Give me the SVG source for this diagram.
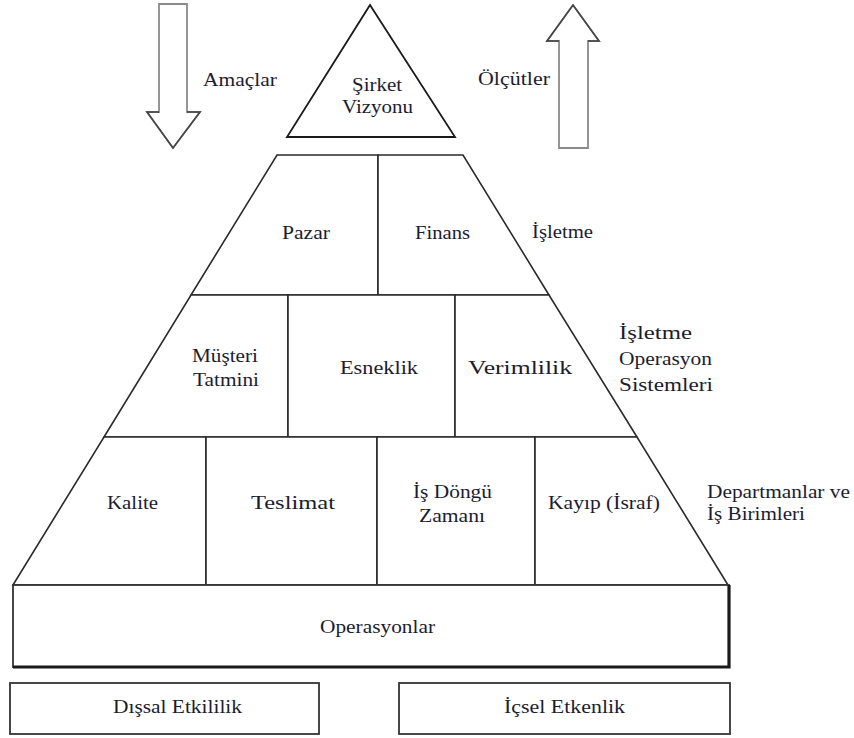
<svg xmlns="http://www.w3.org/2000/svg" width="854" height="738" viewBox="0 0 854 738">
  <style>
    text { font-family: 'Liberation Serif', 'DejaVu Serif', serif; font-size: 18px; fill: #1c1c30; }
    .cell { fill: #ffffff; stroke: #2a2a2a; stroke-width: 1.6; stroke-linejoin: miter; }
    .tri { fill: #ffffff; stroke: #1a1a1a; stroke-width: 1.8; }
    .arrow { fill: #ffffff; stroke: #8a8a8a; stroke-width: 1.8; stroke-linejoin: miter; }
    .head { fill: none; stroke: #444444; stroke-width: 1.6; stroke-linejoin: miter; }
    .box { fill: #ffffff; stroke: #333333; stroke-width: 1.8; }
    .heavy { stroke: #1a1a1a; stroke-width: 3.2; fill: none; }
  </style>
  <rect width="854" height="738" fill="#ffffff"/>

  <g font-family="Liberation Serif, DejaVu Serif, serif" font-size="18">
  <!-- block arrows: goals flow down, measures flow up -->
  <g id="connectors">
    <polygon class="arrow" points="159,4 187,4 187,112 200,112 173,148 147,112 159,112"/>
    <polyline class="head" points="187,112 200,112 173,148 147,112 159,112"/>
    <polygon class="arrow" points="573,5 599,41 588,41 588,148 559,148 559,41 547,41"/>
    <polyline class="head" points="559,41 547,41 573,5 599,41 588,41"/>
  </g>

  <!-- side labels -->
  <g id="label-amaclar"><text x="203" y="86" textLength="74" lengthAdjust="spacingAndGlyphs">Amaçlar</text></g>
  <g id="label-olcutler"><text x="478" y="85" textLength="72" lengthAdjust="spacingAndGlyphs">Ölçütler</text></g>

  <!-- apex: company vision -->
  <g id="node-vizyon">
    <polygon class="tri" points="370,5 455,137 287,137"/>
    <text x="352" y="91" textLength="50" lengthAdjust="spacingAndGlyphs">Şirket</text>
    <text x="342" y="113" textLength="71" lengthAdjust="spacingAndGlyphs">Vizyonu</text>
  </g>

  <!-- level 1: business -->
  <g id="node-pazar">
    <polygon class="cell" points="277,155 378,155 378,295 191,295"/>
    <text x="282" y="239" textLength="48" lengthAdjust="spacingAndGlyphs">Pazar</text>
  </g>
  <g id="node-finans">
    <polygon class="cell" points="378,155 463,155 549,295 378,295"/>
    <text x="415" y="239" textLength="55" lengthAdjust="spacingAndGlyphs">Finans</text>
  </g>
  <g id="label-isletme"><text x="532" y="238" textLength="61" lengthAdjust="spacingAndGlyphs">İşletme</text></g>

  <!-- level 2: business operating systems -->
  <g id="node-musteri">
    <polygon class="cell" points="191,295 288,295 288,437 104,437"/>
    <text x="192" y="362" textLength="66" lengthAdjust="spacingAndGlyphs">Müşteri</text>
    <text x="193" y="386" textLength="66" lengthAdjust="spacingAndGlyphs">Tatmini</text>
  </g>
  <g id="node-esneklik">
    <polygon class="cell" points="288,295 455,295 455,437 288,437"/>
    <text x="340" y="374" textLength="78" lengthAdjust="spacingAndGlyphs">Esneklik</text>
  </g>
  <g id="node-verimlilik">
    <polygon class="cell" points="455,295 549,295 637,437 455,437"/>
    <text x="468" y="374" textLength="104" lengthAdjust="spacingAndGlyphs">Verimlilik</text>
  </g>
  <g id="label-operasyon-sistemleri">
    <text x="619" y="339" textLength="73" lengthAdjust="spacingAndGlyphs">İşletme</text>
    <text x="619" y="365" textLength="93" lengthAdjust="spacingAndGlyphs">Operasyon</text>
    <text x="619" y="391" textLength="94" lengthAdjust="spacingAndGlyphs">Sistemleri</text>
  </g>

  <!-- level 3: departments and business units -->
  <g id="node-kalite">
    <polygon class="cell" points="104,437 206,437 206,585 13,585"/>
    <text x="107" y="509" textLength="51" lengthAdjust="spacingAndGlyphs">Kalite</text>
  </g>
  <g id="node-teslimat">
    <polygon class="cell" points="206,437 377,437 377,585 206,585"/>
    <text x="251" y="509" textLength="84" lengthAdjust="spacingAndGlyphs">Teslimat</text>
  </g>
  <g id="node-dongu">
    <polygon class="cell" points="377,437 535,437 535,585 377,585"/>
    <text x="413" y="498" textLength="79" lengthAdjust="spacingAndGlyphs">İş Döngü</text>
    <text x="419" y="522" textLength="66" lengthAdjust="spacingAndGlyphs">Zamanı</text>
  </g>
  <g id="node-kayip">
    <polygon class="cell" points="535,437 637,437 728,585 535,585"/>
    <text x="548" y="509" textLength="112" lengthAdjust="spacingAndGlyphs">Kayıp (İsraf)</text>
  </g>
  <g id="label-departmanlar">
    <text x="707" y="498" textLength="143" lengthAdjust="spacingAndGlyphs">Departmanlar ve</text>
    <text x="707" y="520" textLength="98" lengthAdjust="spacingAndGlyphs">İş Birimleri</text>
  </g>

  <!-- base: operations -->
  <g id="node-operasyonlar">
    <rect class="box" x="13" y="585" width="716" height="82"/>
    <polyline class="heavy" points="13,667 729,667 729,585"/>
    <text x="320" y="633" textLength="115" lengthAdjust="spacingAndGlyphs">Operasyonlar</text>
  </g>

  <!-- effectiveness / efficiency -->
  <g id="node-dissal">
    <rect class="box" x="10" y="683" width="309" height="51"/>
    <text x="113" y="713" textLength="129" lengthAdjust="spacingAndGlyphs">Dışsal Etkililik</text>
  </g>
  <g id="node-icsel">
    <rect class="box" x="399" y="683" width="331" height="51"/>
    <text x="504" y="713" textLength="121" lengthAdjust="spacingAndGlyphs">İçsel Etkenlik</text>
  </g>
  </g>
</svg>
